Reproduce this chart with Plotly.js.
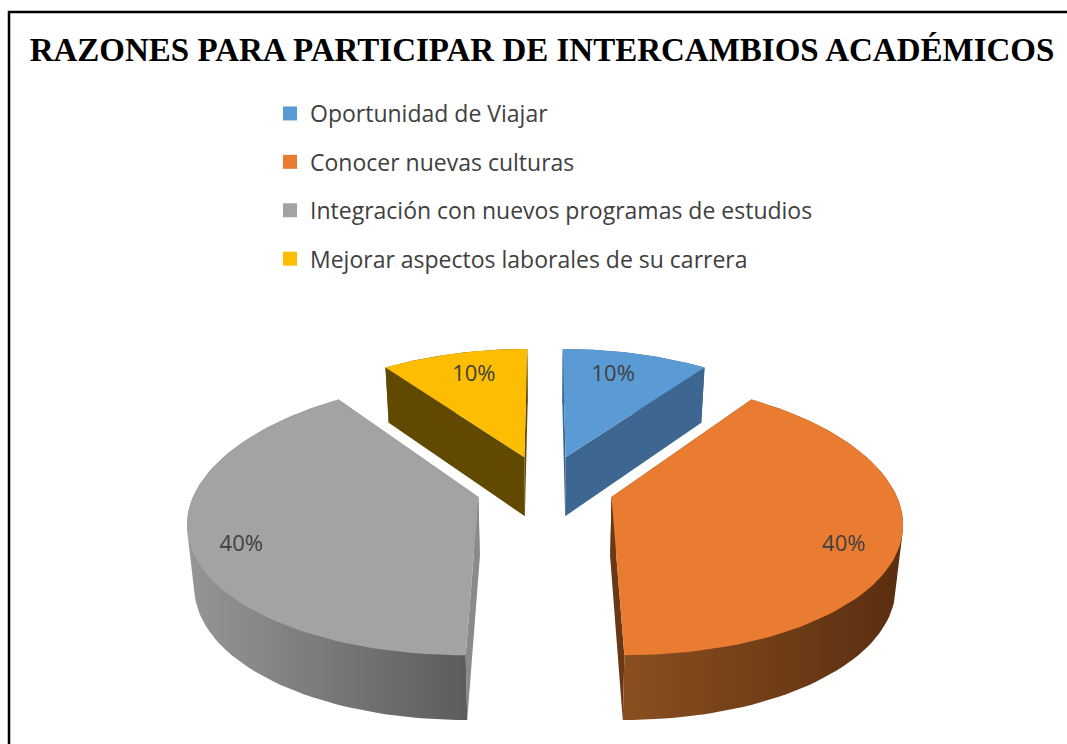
<!DOCTYPE html>
<html>
<head>
<meta charset="utf-8">
<script src="https://cdn.plot.ly/plotly-3.0.1.min.js"></script>
<style>html,body{margin:0;padding:0;background:#fff;overflow:hidden}#chart{width:1067px;height:744px}</style>
</head>
<body>
<div id="chart"></div>
<script>
const titleText = 'RAZONES PARA PARTICIPAR DE INTERCAMBIOS ACADÉMICOS';
const categories = ['Oportunidad de Viajar', 'Conocer nuevas culturas', 'Integración con nuevos programas de estudios', 'Mejorar aspectos laborales de su carrera'];
const values = [10, 40, 40, 10];
const topColors = ['#5b9bd5', '#ea7c31', '#a3a3a3', '#fdbd00'];
const wallColors = ['#3d6690', '#6a3814', '#8a8a8a', '#614a00'];
const arcShadeLeft = ['#3d6690', '#8a4f20', '#969696', '#614a00'];
const arcShadeRight = ['#3d6690', '#5a2e10', '#5c5c5c', '#614a00'];
const labelNudgeX = [-10, 3, -8, 7];
const labelNudgeY = [3, 14, 14, 3];

// perspective view of the exploded pie
const CX = 545, CY = 487, RX = 282, RY = 132, PERSP = 0.145, EXPLODE = 0.245;
const BACK_NARROW = 0.018, FOOT_NARROW = 0.98;
const total = values.reduce((a, b) => a + b, 0);
const project = (X, Y) => {
  const den = 1 + PERSP * Y;
  return [CX + RX * X / den * (1 - BACK_NARROW * Y), CY - RY * Y / den];
};
const depth = Y => 60 - 4.5 * Y;

let acc = 0;
const slices = values.map(v => {
  const a0 = acc / total * 2 * Math.PI;
  acc += v;
  const a1 = acc / total * 2 * Math.PI;
  const mid = (a0 + a1) / 2;
  return {a0, a1, mid, ox: EXPLODE * Math.sin(mid), oy: EXPLODE * Math.cos(mid)};
});
const rim = (s, a) => [s.ox + Math.sin(a), s.oy + Math.cos(a)];
const arcPts = (s, from, to) => {
  const out = [], n = 80;
  for (let i = 0; i <= n; i++) out.push(rim(s, from + (to - from) * i / n));
  return out;
};
const poly = (name, pts, opts) => ({
  type: 'scatter', mode: 'lines', fill: 'toself', showlegend: false, hoverinfo: 'skip',
  line: {width: 0}, x: pts.map(p => p[0]), y: pts.map(p => p[1]), name, ...opts
});
const upper = w => project(w[0], w[1]);
const lower = w => {
  const p = project(w[0], w[1]);
  return [CX + (p[0] - CX) * FOOT_NARROW, p[1] + depth(w[1])];
};
// convex outline, so the extruded silhouette stays tangent to the top face
const hull = pts => {
  const sorted = pts.slice().sort((a, b) => a[0] - b[0] || a[1] - b[1]);
  const cross = (o, a, b) => (a[0] - o[0]) * (b[1] - o[1]) - (a[1] - o[1]) * (b[0] - o[0]);
  const half = list => {
    const h = [];
    list.forEach(p => {
      while (h.length > 1 && cross(h[h.length - 2], h[h.length - 1], p) <= 0) h.pop();
      h.push(p);
    });
    h.pop();
    return h;
  };
  const out = half(sorted).concat(half(sorted.slice().reverse()));
  out.push(out[0]);
  return out;
};

const traces = [];
slices.forEach((s, i) => {
  const apex = [s.ox, s.oy];
  // straight walls on both cut edges
  [s.a0, s.a1].forEach(a => {
    const e = rim(s, a);
    traces.push(poly('wall', [upper(apex), upper(e), lower(e), lower(apex), upper(apex)], {fillcolor: wallColors[i]}));
  });
  // curved outer wall
  const arc = arcPts(s, s.a0, s.a1);
  traces.push(poly('side', hull(arc.map(upper).concat(arc.map(lower))), {
    fillgradient: {type: 'horizontal', colorscale: [[0, arcShadeLeft[i]], [1, arcShadeRight[i]]]}
  }));
});
slices.forEach((s, i) => {
  const face = [upper([s.ox, s.oy])].concat(arcPts(s, s.a0, s.a1).map(upper));
  face.push(face[0]);
  traces.push(poly(categories[i], face, {fillcolor: topColors[i]}));
});
// percentage labels
const labelPts = slices.map((s, i) => {
  const p = project(s.ox + 0.8 * Math.sin(s.mid), s.oy + 0.8 * Math.cos(s.mid));
  return [p[0] + labelNudgeX[i], p[1] + labelNudgeY[i]];
});
traces.push({
  type: 'scatter', mode: 'text', showlegend: false, hoverinfo: 'skip',
  x: labelPts.map(p => p[0]), y: labelPts.map(p => p[1]),
  text: values.map(v => Math.round(v / total * 100) + '%'),
  textposition: 'middle center',
  textfont: {family: '"Open Sans", sans-serif', size: 22, color: '#404040'}
});
// legend entries
categories.forEach((c, i) => traces.push({
  type: 'scatter', mode: 'markers', x: [null], y: [null], name: c, legendgroup: 'g' + i,
  marker: {symbol: 'square', size: 14, color: topColors[i]}
}));

const layout = {
  width: 1067, height: 744, margin: {l: 0, r: 0, t: 0, b: 0},
  paper_bgcolor: '#fff', plot_bgcolor: '#fff',
  xaxis: {range: [0, 1067], visible: false, fixedrange: true},
  yaxis: {range: [744, 0], visible: false, fixedrange: true},
  title: {text: '<b>' + titleText + '</b>', x: 542 / 1067, xanchor: 'center', y: 1 - 49 / 744, yanchor: 'middle',
    font: {family: '"Liberation Serif", serif', size: 33, color: '#000'}},
  legend: {x: 270 / 1067, y: 1 - 92 / 744, xanchor: 'left', yanchor: 'top', bgcolor: 'rgba(0,0,0,0)',
    tracegroupgap: 15.5, itemclick: false, itemdoubleclick: false, traceorder: 'grouped',
    font: {family: '"Open Sans", sans-serif', size: 23, color: '#404040'}},
  shapes: [{type: 'path', xref: 'paper', yref: 'paper', path: 'M 0.00844 0 L 0.00844 0.9839 L 1 0.9839', line: {color: '#000', width: 2.5}}],
  showlegend: true
};
Plotly.newPlot('chart', traces, layout, {displayModeBar: false});
</script>
</body>
</html>
